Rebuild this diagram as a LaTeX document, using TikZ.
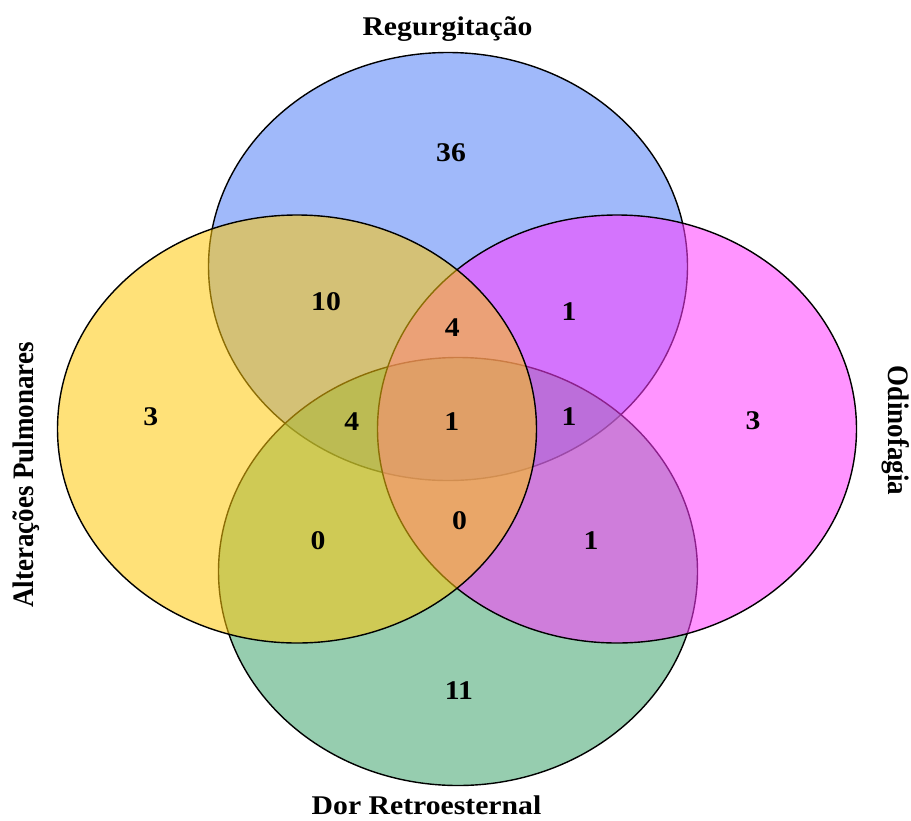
\documentclass[tikz,border=0pt]{standalone}
\usepackage{fontspec}
\setmainfont{Liberation Serif}
\usepackage{graphicx}
\definecolor{cblue}{RGB}{82,128,246}
\definecolor{cgreen}{RGB}{64,164,110}
\definecolor{cmag}{RGB}{255,60,255}
\definecolor{cyel}{RGB}{255,200,10}
\newcommand{\hst}[1]{\scalebox{1.1}[1]{#1}}
\newcommand{\vst}[1]{\scalebox{1}[1.1]{#1}}
\begin{document}
\begin{tikzpicture}[x=1pt,y=-1pt,
  setb/.style={draw=black, line width=1.4pt, fill opacity=0.55},
  num/.style={font=\fontsize{27}{30}\selectfont\bfseries, inner sep=0pt},
  lab/.style={font=\fontsize{27}{30}\selectfont\bfseries, inner sep=0pt, anchor=base}]
\useasboundingbox (0,0) rectangle (911,820);
% sets
\draw[setb, fill=cblue]  (448,266.5) ellipse [x radius=239.5, y radius=214];
\draw[setb, fill=cgreen] (458,571.5) ellipse [x radius=239.5, y radius=214];
\draw[setb, fill=cmag]   (617,429)   ellipse [x radius=239.5, y radius=214];
\draw[setb, fill=cyel]   (297,429)   ellipse [x radius=239.5, y radius=214];
% labels
\node[lab] (lr) at (447.5,35) {\hst{Regurgitação}};
\node[lab] (ld) at (426.5,814) {\hst{Dor Retroesternal}};
\node[lab, rotate=90] (la) at (33,475) {\vst{Alterações Pulmonares}};
\node[lab, rotate=-90] (lo) at (888,430.5) {\vst{Odinofagia}};
% numbers
\node[num] (n36) at (451,152.5) {\hst{36}};
\node[num] (n10) at (326,302) {\hst{10}};
\node[num] (n4a) at (452.3,327.5) {\hst{4}};
\node[num] (n1a) at (569,311.7) {\hst{1}};
\node[num] (n3l) at (150.7,416.7) {\hst{3}};
\node[num] (n4b) at (351.7,421.7) {\hst{4}};
\node[num] (n1c) at (451.7,421.7) {\hst{1}};
\node[num] (n1b) at (569,416.7) {\hst{1}};
\node[num] (n3r) at (753,420.8) {\hst{3}};
\node[num] (n0l) at (318,540.5) {\hst{0}};
\node[num] (n0c) at (459.5,520.5) {\hst{0}};
\node[num] (n1d) at (591,541) {\hst{1}};
\node[num] (n11) at (459,690.5) {\hst{11}};
\end{tikzpicture}
\end{document}
